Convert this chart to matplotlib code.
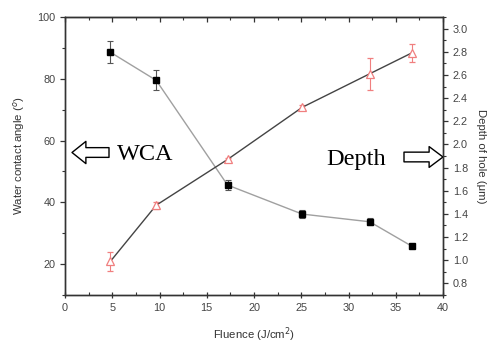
import matplotlib
matplotlib.use("Agg")
import matplotlib.pyplot as plt
from matplotlib.ticker import MultipleLocator

fluence = [4.8, 9.65, 17.2, 25.1, 32.25, 36.7]
wca = [88.6, 79.5, 45.6, 36.2, 33.7, 25.8]
wca_err = [3.5, 3.2, 1.5, 1.3, 1.1, 0.7]
depth = [0.99, 1.475, 1.87, 2.32, 2.61, 2.79]
depth_err = [0.08, 0.03, 0.01, 0.02, 0.14, 0.08]

plt.rcParams['font.family'] = ['Liberation Sans', 'DejaVu Sans']
fig = plt.figure(figsize=(4.91, 3.45), dpi=100)
ax = fig.add_axes([65/491, 1-295/345, (443-65)/491, (295-17)/345])
ax2 = ax.twinx()

tc = '#444444'
ax.errorbar(fluence, wca, yerr=wca_err, color='#a0a0a0', lw=1.0, marker='s',
            ms=4.2, mfc='black', mec='black', ecolor='#555555', elinewidth=0.8,
            capsize=2.5, capthick=0.8, zorder=3)
ax2.errorbar(fluence, depth, yerr=depth_err, color='#444444', lw=1.0, marker='^',
             ms=6, mfc='white', mec='#f07f7f', mew=0.9, ecolor='#f07f7f',
             elinewidth=0.8, capsize=2.5, capthick=0.8, zorder=3)

ax.set_xlim(0, 40)
ax.set_ylim(10, 100)
ax2.set_ylim(0.7, 3.1)
ax.xaxis.set_major_locator(MultipleLocator(5))
ax.xaxis.set_minor_locator(MultipleLocator(2.5))
ax.yaxis.set_major_locator(MultipleLocator(20))
ax.yaxis.set_minor_locator(MultipleLocator(10))
ax2.yaxis.set_major_locator(MultipleLocator(0.2))
ax2.yaxis.set_minor_locator(MultipleLocator(0.1))
ax.set_yticks([20, 40, 60, 80, 100])
ax2.set_yticks([0.8, 1.0, 1.2, 1.4, 1.6, 1.8, 2.0, 2.2, 2.4, 2.6, 2.8, 3.0])
ax2.set_yticklabels(['0.8', '1.0', '1.2', '1.4', '1.6', '1.8', '2.0', '2.2',
                     '2.4', '2.6', '2.8', '3.0'])

for a in (ax, ax2):
    for s in a.spines.values():
        s.set_color('#333333')
        s.set_linewidth(1.0)

ax.tick_params(axis='x', which='major', direction='inout', length=5, width=0.9,
               labelsize=7.8, labelcolor=tc, color='#333333')
ax.tick_params(axis='x', which='minor', direction='in', length=2.5, width=0.8,
               color='#333333')
ax.tick_params(axis='y', which='major', direction='out', length=3.5, width=0.9,
               labelsize=7.8, labelcolor=tc, color='#333333')
ax.tick_params(axis='y', which='minor', direction='out', length=2, width=0.8,
               color='#333333')
ax2.tick_params(axis='y', which='major', direction='out', length=3.5, width=0.9,
                labelsize=7.8, labelcolor=tc, color='#333333')
ax2.tick_params(axis='y', which='minor', direction='out', length=2, width=0.8,
                color='#333333')

top = ax.secondary_xaxis('top')
top.xaxis.set_major_locator(MultipleLocator(5))
top.xaxis.set_minor_locator(MultipleLocator(2.5))
top.tick_params(which='major', direction='in', length=3.5, width=0.9,
                labeltop=False, color='#333333')
top.tick_params(which='minor', direction='in', length=2, width=0.8,
                color='#333333')
top.spines['top'].set_color('#333333')

ax.set_xlabel('Fluence (J/cm$^2$)', fontsize=8.2, color='#333333', labelpad=9)
ax.set_ylabel('Water contact angle ($^o$)', fontsize=8.2, color='#333333', labelpad=7)
ax2.set_ylabel('Depth of hole (\u03bcm)', fontsize=8.2, color='#333333',
               rotation=270, labelpad=13)

# annotations
def to_ax(px, py):
    return ((px - 65) / 378, (295 - py) / 278)

ax.annotate('', xy=to_ax(72, 152.5), xytext=to_ax(109, 152.5),
            xycoords='axes fraction', textcoords='axes fraction',
            arrowprops=dict(arrowstyle='simple,head_length=10,head_width=16,tail_width=7',
                            mutation_scale=1, fc='white', ec='black', lw=1.0,
                            shrinkA=0, shrinkB=0))
ax.annotate('', xy=to_ax(443, 157), xytext=to_ax(404, 157),
            xycoords='axes fraction', textcoords='axes fraction',
            arrowprops=dict(arrowstyle='simple,head_length=10,head_width=15,tail_width=7',
                            mutation_scale=1, fc='white', ec='black', lw=1.0,
                            shrinkA=0, shrinkB=0))
ax.text(*to_ax(117, 154), 'WCA', transform=ax.transAxes, fontsize=17.5,
        family=['Liberation Serif', 'DejaVu Serif'], ha='left', va='center')
ax.text(*to_ax(326, 159), 'Depth', transform=ax.transAxes, fontsize=17.5,
        family=['Liberation Serif', 'DejaVu Serif'], ha='left', va='center')

fig.savefig('out.png', dpi=100)
